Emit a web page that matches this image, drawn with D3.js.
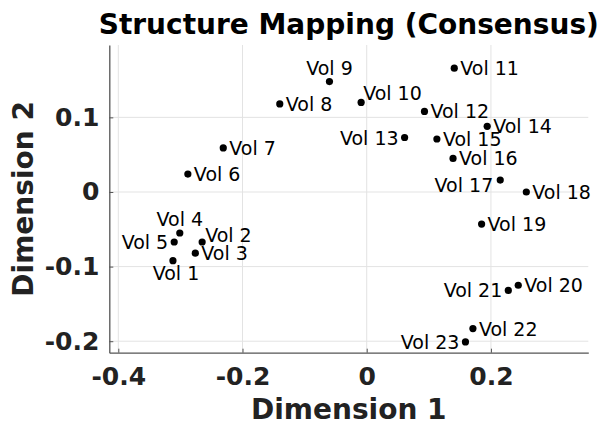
<!DOCTYPE html>
<html>
<head>
<meta charset="utf-8">
<script src="https://cdn.jsdelivr.net/npm/d3@7"></script>
<style>
  body { margin: 0; background: #fff; }
  text { font-family: "DejaVu Sans", sans-serif; }
</style>
</head>
<body>
<script>
// consensus coordinates
const labels = ["Vol 1", "Vol 2", "Vol 3", "Vol 4", "Vol 5", "Vol 6", "Vol 7", "Vol 8",
  "Vol 9", "Vol 10", "Vol 11", "Vol 12", "Vol 13", "Vol 14", "Vol 15", "Vol 16",
  "Vol 17", "Vol 18", "Vol 19", "Vol 20", "Vol 21", "Vol 22", "Vol 23"];
const dim1 = [-0.312, -0.265, -0.276, -0.301, -0.310, -0.288, -0.231, -0.140,
  -0.060, -0.009, 0.141, 0.093, 0.061, 0.194, 0.113, 0.139,
  0.215, 0.257, 0.185, 0.244, 0.228, 0.171, 0.159];
const dim2 = [-0.092, -0.067, -0.082, -0.055, -0.067, 0.024, 0.059, 0.118,
  0.148, 0.120, 0.166, 0.108, 0.073, 0.088, 0.071, 0.045,
  0.016, 0.000, -0.043, -0.125, -0.132, -0.183, -0.201];
// where each label sits relative to its point
const labelSide = ["b", "ru", "r", "t", "l", "r", "r", "r",
  "t", "ru2", "r", "r", "l", "r", "r", "r",
  "ld", "r", "r", "r", "l", "r", "l"];
const xTicks = [-0.4, -0.2, 0, 0.2];
const yTicks = [-0.2, -0.1, 0, 0.1];

const W = 603, H = 423;
const plot = { left: 109.3, right: 588.3, top: 45, bottom: 352.7 };

const svg = d3.select("body").append("svg")
  .attr("width", W)
  .attr("height", H);

const x = d3.scaleLinear().domain([-0.4145, 0.3568]).range([plot.left, plot.right]);
const y = d3.scaleLinear().domain([-0.2154, 0.197]).range([plot.bottom, plot.top]);

// grid
svg.append("g").selectAll("line").data(xTicks).join("line")
  .attr("x1", d => x(d)).attr("x2", d => x(d))
  .attr("y1", plot.top).attr("y2", plot.bottom)
  .attr("stroke", "#e3e3e3").attr("stroke-width", 1);
svg.append("g").selectAll("line").data(yTicks).join("line")
  .attr("x1", plot.left).attr("x2", plot.right)
  .attr("y1", d => y(d)).attr("y2", d => y(d))
  .attr("stroke", "#e3e3e3").attr("stroke-width", 1);

// axes: ticks pointing inward, bold labels
const fmt = d => d === 0 ? "0" : d3.format(".1f")(d).replace("−", "-");

const xAxis = svg.append("g")
  .attr("transform", `translate(0,${plot.bottom})`)
  .call(d3.axisBottom(x).tickValues(xTicks).tickSizeInner(-4).tickSizeOuter(0).tickPadding(14).tickFormat(fmt));
const yAxis = svg.append("g")
  .attr("transform", `translate(${plot.left},0)`)
  .call(d3.axisLeft(y).tickValues(yTicks).tickSizeInner(-4).tickSizeOuter(0).tickPadding(10).tickFormat(fmt));

[xAxis, yAxis].forEach(a => {
  a.select(".domain").attr("stroke", "#555").attr("stroke-width", 1.3);
  a.selectAll(".tick line").attr("stroke", "#555");
  a.selectAll(".tick text")
    .attr("fill", "#222")
    .style("font-family", "DejaVu Sans")
    .style("font-size", "25px")
    .style("font-weight", "bold");
});
xAxis.selectAll(".tick text").attr("dy", null).attr("y", 32.5);

// points and labels
const pts = labels.map((name, i) => ({ name, d1: dim1[i], d2: dim2[i], side: labelSide[i] }));

svg.append("g").selectAll("circle").data(pts).join("circle")
  .attr("cx", d => x(d.d1))
  .attr("cy", d => y(d.d2))
  .attr("r", 3.6)
  .attr("fill", "#000");

const place = {
  r:   { dx: 6,  dy: 7,   anchor: "start" },
  ru:  { dx: 3,  dy: 0.5, anchor: "start" },
  ru2: { dx: 2,  dy: -2.5, anchor: "start" },
  l:   { dx: -6, dy: 7,   anchor: "end" },
  ld:  { dx: -7, dy: 12,  anchor: "end" },
  t:   { dx: 0,  dy: -7,  anchor: "middle" },
  b:   { dx: 3,  dy: 19.5, anchor: "middle" }
};

svg.append("g").selectAll("text").data(pts).join("text")
  .attr("x", d => x(d.d1) + place[d.side].dx)
  .attr("y", d => y(d.d2) + place[d.side].dy)
  .attr("text-anchor", d => place[d.side].anchor)
  .style("font-size", "19px")
  .attr("fill", "#000")
  .text(d => d.name);

// titles
const cx = (plot.left + plot.right) / 2;
svg.append("text")
  .attr("x", cx).attr("y", 33.5)
  .attr("text-anchor", "middle")
  .style("font-size", "28px").style("font-weight", "bold")
  .text("Structure Mapping (Consensus)");

svg.append("text")
  .attr("x", cx).attr("y", 419)
  .attr("text-anchor", "middle")
  .attr("fill", "#222")
  .style("font-size", "28px").style("font-weight", "bold")
  .text("Dimension 1");

svg.append("text")
  .attr("transform", `translate(33,${(plot.top + plot.bottom) / 2}) rotate(-90)`)
  .attr("text-anchor", "middle")
  .attr("fill", "#222")
  .style("font-size", "28px").style("font-weight", "bold")
  .text("Dimension 2");
</script>
</body>
</html>
